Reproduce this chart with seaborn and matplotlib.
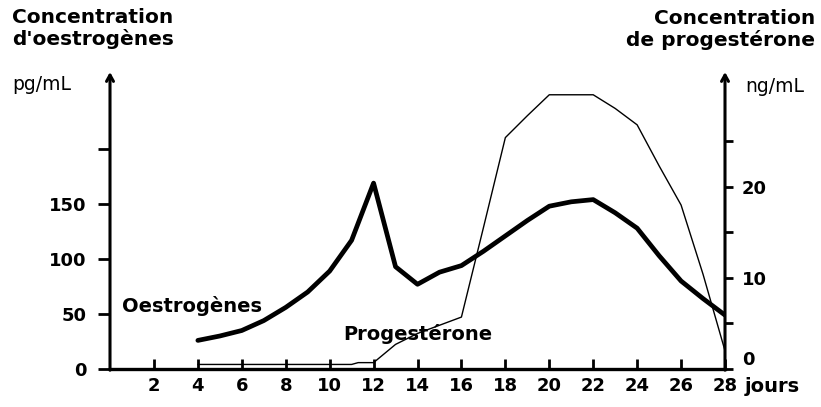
import matplotlib
matplotlib.use("Agg")
import matplotlib.pyplot as plt
import seaborn as sns
import pandas as pd

# ---- data ----
days_oestro = [4, 5, 6, 7, 8, 9, 10, 11, 12, 13, 14, 15, 16, 17, 18, 19, 20, 21, 22, 23, 24, 25, 26, 27, 28]
oestrogenes = [26, 30, 35, 44, 56, 70, 89, 117, 169, 93, 77, 88, 94, 107, 121, 135, 148, 152, 154, 142, 128, 103, 80, 64, 49]

days_proges = [4, 5, 6, 7, 8, 9, 10, 11, 11.3, 12, 13, 14, 15, 16, 17, 18, 19, 20, 21, 22, 23, 24, 25, 26, 27, 28]
progesterone = [0.5, 0.5, 0.5, 0.5, 0.5, 0.5, 0.5, 0.5, 0.7, 0.7, 2.7, 3.9, 4.8, 5.7, 15.5, 25.4, 27.8, 30.1, 30.1, 30.1, 28.6, 26.8, 22.3, 18.0, 10.4, 2.0]

x_ticks = [2, 4, 6, 8, 10, 12, 14, 16, 18, 20, 22, 24, 26, 28]
left_ticks = [0, 50, 100, 150, 200]
left_labels = ["0", "50", "100", "150", ""]
right_ticks = [0, 5, 10, 15, 20, 25]
right_labels = ["0", "", "10", "", "20", ""]

df_o = pd.DataFrame({"jour": days_oestro, "val": oestrogenes})
df_p = pd.DataFrame({"jour": days_proges, "val": progesterone})

sns.set_style("white")
plt.rcParams["font.family"] = ["DejaVu Sans"]
for k in ["text.color", "axes.labelcolor", "xtick.color", "ytick.color", "axes.edgecolor"]:
    plt.rcParams[k] = "black"

W, H = 821, 407
fig = plt.figure(figsize=(W / 100, H / 100), dpi=100)
x0, x1 = 110, 725
y0, y1 = 369, 72
ax = fig.add_axes([x0 / W, 1 - y0 / H, (x1 - x0) / W, (y0 - y1) / H])
ax.set_facecolor("none")

sns.lineplot(data=df_o, x="jour", y="val", ax=ax, color="black", lw=3.4, zorder=5)
ax2 = ax.twinx()
sns.lineplot(data=df_p, x="jour", y="val", ax=ax2, color="black", lw=1.0, zorder=4)

ax.set_xlim(0, 28)
ax.set_ylim(0, 270)
ax2.set_ylim(0, 32.6)
ax.set_xlabel("")
ax.set_ylabel("")
ax2.set_ylabel("")

for s in ["top", "right", "left"]:
    ax.spines[s].set_visible(False)
for s in ["top", "right", "left", "bottom"]:
    ax2.spines[s].set_visible(False)
ax.spines["bottom"].set_linewidth(2.4)
ax.spines["bottom"].set_color("black")

# axes arrows
for a, xf in [(ax, 0), (ax, 1)]:
    a.annotate("", xy=(xf, 1.0), xytext=(xf, -0.004), xycoords="axes fraction",
               textcoords="axes fraction",
               arrowprops=dict(arrowstyle="->,head_length=0.45,head_width=0.25", lw=2.2,
                               color="black", shrinkA=0, shrinkB=0),
               annotation_clip=False)

tick_font = dict(fontsize=13, fontweight="bold")
ax.set_xticks(x_ticks)
ax.set_xticklabels([str(t) for t in x_ticks], **tick_font)
ax.tick_params(axis="x", direction="in", length=7, width=2, pad=6, colors="black", bottom=True)

ax.set_yticks(left_ticks)
ax.set_yticklabels(left_labels, **tick_font)
ax.tick_params(axis="y", direction="out", length=9, width=2, pad=8, colors="black", left=True)

ax2.set_yticks(right_ticks)
ax2.set_yticklabels(right_labels, **tick_font)
ax2.tick_params(axis="y", direction="out", length=6, width=2, pad=6, colors="black", right=True)
ax2.get_yticklabels()[0].set_verticalalignment("bottom")

def px(x, y):
    return x / W, 1 - y / H

fig.text(*px(12, 8), "Concentration\nd'oestrogènes", fontsize=14.5, fontweight="bold",
         va="top", ha="left", linespacing=1.15)
fig.text(*px(12, 84), "pg/mL", fontsize=13.5, va="center", ha="left")
fig.text(*px(815, 9), "Concentration\nde progestérone", fontsize=14.5, fontweight="bold",
         va="top", ha="right", multialignment="right", linespacing=1.15)
fig.text(*px(745, 86), "ng/mL", fontsize=13.5, va="center", ha="left")
fig.text(*px(122, 306), "Oestrogènes", fontsize=14, fontweight="bold", va="center", ha="left")
fig.text(*px(343, 334), "Progestérone", fontsize=14, fontweight="bold", va="center", ha="left")
fig.text(*px(745, 387), "jours", fontsize=14, fontweight="bold", va="center", ha="left")

fig.savefig("out.png", dpi=100, facecolor="white")
